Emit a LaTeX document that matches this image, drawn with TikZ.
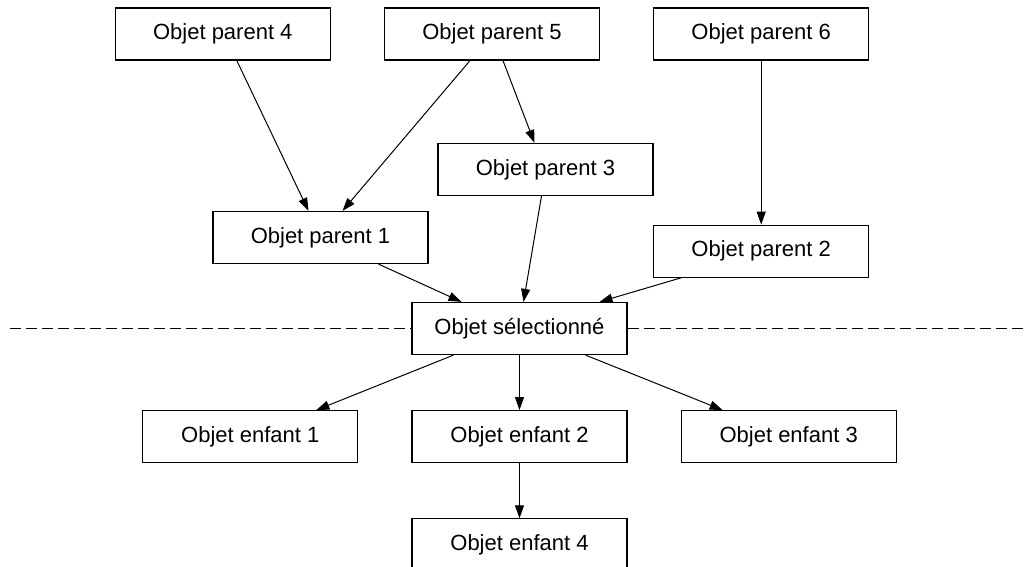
\documentclass[tikz,border=0pt]{standalone}
\usepackage{fontspec}
\setmainfont{Liberation Sans}
\usetikzlibrary{arrows.meta, positioning}

\begin{document}
\begin{tikzpicture}[
        node distance=27.5pt and 26.5pt,
        objbox/.style={rectangle, draw=black, line width=0.6pt, fill=white, minimum width=107.5pt, minimum height=26pt, inner sep=0pt, align=center, font=\fontsize{11}{13}\selectfont},
        arrow/.style={-{Triangle[length=6.5pt, width=4.5pt]}, line width=0.5pt},
        cutline/.style={dashed, dash pattern=on 5.5pt off 2.5pt, line width=0.6pt}
    ]
        \useasboundingbox (-259.75pt,-119.25pt) rectangle (252.75pt,164.25pt);

        % selected object and its children
        \node[objbox] (sel) at (0,0) {Objet sélectionné};
        \node[objbox, below=of sel] (enf2) {Objet enfant 2};
        \node[objbox, left=of enf2] (enf1) {Objet enfant 1};
        \node[objbox, right=of enf2] (enf3) {Objet enfant 3};
        \node[objbox, below=of enf2] (enf4) {Objet enfant 4};

        % parents
        \node[objbox] (par5) at (-13.75pt,147.25pt) {Objet parent 5};
        \node[objbox, left=of par5] (par4) {Objet parent 4};
        \node[objbox, right=of par5] (par6) {Objet parent 6};
        \node[objbox, below=82pt of par6] (par2) {Objet parent 2};
        \node[objbox] (par3) at (13pt,79.5pt) {Objet parent 3};
        \node[objbox] (par1) at (-99.5pt,45.5pt) {Objet parent 1};

        % separator
        \coordinate (cutL) at (-254.75pt,0);
        \coordinate (cutR) at (252.75pt,0);
        \draw[cutline] (cutL) -- (sel.west);
        \draw[cutline] (sel.east) -- (cutR);

        \draw[arrow] ([xshift=7pt]par4.south) -- ([xshift=-6pt]par1.north);
        \draw[arrow] ([xshift=-11pt]par5.south) -- ([xshift=11pt]par1.north);
        \draw[arrow] ([xshift=5.5pt]par5.south) -- ([xshift=-5.5pt]par3.north);
        \draw[arrow] (par6) -- (par2);
        \draw[arrow] ([xshift=29pt]par1.south) -- ([xshift=-29pt]sel.north);
        \draw[arrow] ([xshift=-2pt]par3.south) -- ([xshift=2pt]sel.north);
        \draw[arrow] ([xshift=-40pt]par2.south) -- ([xshift=40pt]sel.north);

        \draw[arrow] ([xshift=-33pt]sel.south) -- ([xshift=33pt]enf1.north);
        \draw[arrow] (sel) -- (enf2);
        \draw[arrow] ([xshift=33pt]sel.south) -- ([xshift=-33pt]enf3.north);
        \draw[arrow] (enf2) -- (enf4);
    \end{tikzpicture}
\end{document}
